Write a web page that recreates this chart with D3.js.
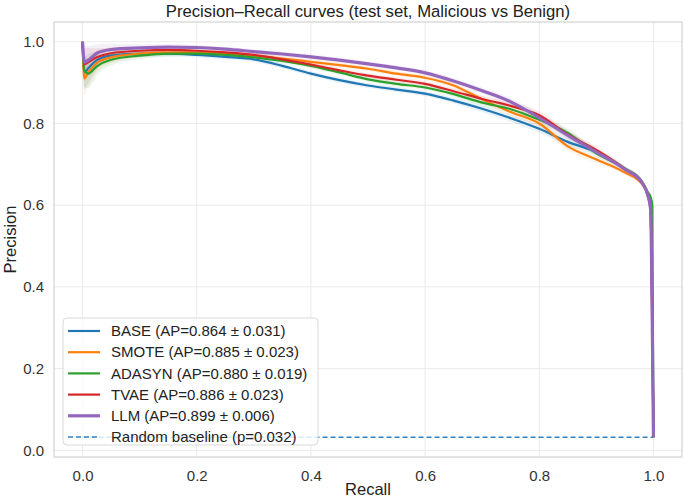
<!DOCTYPE html>
<html lang="en">
<head>
<meta charset="UTF-8">
<title>Precision-Recall curves</title>
<script src="https://d3js.org/d3.v7.min.js"></script>
<style>
  html, body { margin: 0; padding: 0; background: #fff; }
  svg { font-family: "Liberation Sans", Arial, sans-serif; }
</style>
</head>
<body>
<div id="chart"></div>
<script>
// recall grid shared by all curves
const recall = [0, 0.003, 0.01, 0.025, 0.05, 0.1, 0.15, 0.2, 0.25, 0.3, 0.35, 0.4, 0.45, 0.5,
  0.55, 0.6, 0.65, 0.7, 0.75, 0.8, 0.85, 0.9, 0.95, 0.98, 0.99, 0.995, 0.998, 1.0];

const precBase   = [1.0, 0.925, 0.935, 0.955, 0.966, 0.971, 0.971, 0.968, 0.963, 0.957, 0.941, 0.922, 0.906, 0.893,
  0.883, 0.873, 0.856, 0.836, 0.813, 0.787, 0.755, 0.73, 0.688, 0.655, 0.625, 0.59, 0.3, 0.032];
const precSmote  = [1.0, 0.91, 0.925, 0.948, 0.962, 0.971, 0.974, 0.974, 0.972, 0.966, 0.959, 0.951, 0.943, 0.934,
  0.922, 0.912, 0.893, 0.859, 0.828, 0.8, 0.744, 0.712, 0.68, 0.652, 0.622, 0.59, 0.3, 0.032];
const precAdasyn = [1.0, 0.93, 0.922, 0.94, 0.956, 0.966, 0.971, 0.971, 0.968, 0.962, 0.953, 0.941, 0.925, 0.908,
  0.897, 0.888, 0.872, 0.851, 0.835, 0.809, 0.777, 0.727, 0.69, 0.658, 0.632, 0.62, 0.6, 0.032];
const precTvae   = [1.0, 0.945, 0.95, 0.962, 0.972, 0.978, 0.98, 0.978, 0.974, 0.968, 0.957, 0.944, 0.93, 0.917,
  0.907, 0.897, 0.879, 0.86, 0.843, 0.82, 0.773, 0.735, 0.689, 0.656, 0.625, 0.59, 0.3, 0.032];
const precLlm    = [1.0, 0.95, 0.955, 0.972, 0.981, 0.985, 0.987, 0.986, 0.982, 0.976, 0.97, 0.963, 0.955, 0.946,
  0.936, 0.924, 0.904, 0.88, 0.853, 0.814, 0.771, 0.73, 0.688, 0.655, 0.625, 0.59, 0.3, 0.032];

// half width of the shaded +/- std band
const bandHalf = [0, 0.04, 0.035, 0.022, 0.014, 0.009, 0.007, 0.006, 0.006, 0.006, 0.006, 0.006, 0.006, 0.006,
  0.006, 0.006, 0.007, 0.008, 0.009, 0.01, 0.01, 0.008, 0.006, 0.006, 0.006, 0.006, 0, 0];

const seriesNames = ['BASE (AP=0.864 ± 0.031)', 'SMOTE (AP=0.885 ± 0.023)', 'ADASYN (AP=0.880 ± 0.019)',
  'TVAE (AP=0.886 ± 0.023)', 'LLM (AP=0.899 ± 0.006)'];
const seriesColors = ['#1f77b4', '#ff7f0e', '#2ca02c', '#d62728', '#9467bd'];
const seriesWidths = [2.2, 2.2, 2.2, 2.2, 3.2];
const seriesPrec = [precBase, precSmote, precAdasyn, precTvae, precLlm];

const baselineP = 0.032;
const baselineLabel = 'Random baseline (p=0.032)';
const xTicks = [0, 0.2, 0.4, 0.6, 0.8, 1.0];
const yTicks = [0, 0.2, 0.4, 0.6, 0.8, 1.0];

const width = 685, height = 500;
const margin = {top: 22, right: 3, bottom: 43, left: 54};
const pw = width - margin.left - margin.right;
const ph = height - margin.top - margin.bottom;

const svg = d3.select('#chart').append('svg')
  .attr('width', width)
  .attr('height', height);

const x = d3.scaleLinear().domain([-0.05, 1.05]).range([0, pw]);
const y = d3.scaleLinear().domain([-0.0164, 1.0484]).range([ph, 0]);

const g = svg.append('g').attr('transform', `translate(${margin.left},${margin.top})`);

// grid
g.append('g').selectAll('line').data(xTicks).join('line')
  .attr('x1', d => x(d)).attr('x2', d => x(d))
  .attr('y1', 0).attr('y2', ph)
  .attr('stroke', '#ebebeb').attr('stroke-width', 1);
g.append('g').selectAll('line').data(yTicks).join('line')
  .attr('y1', d => y(d)).attr('y2', d => y(d))
  .attr('x1', 0).attr('x2', pw)
  .attr('stroke', '#ebebeb').attr('stroke-width', 1);

// axes (tick labels only, seaborn whitegrid style)
const xAxis = g.append('g').attr('transform', `translate(0,${ph})`)
  .call(d3.axisBottom(x).tickValues(xTicks).tickFormat(d3.format('.1f')).tickSize(0).tickPadding(13));
const yAxis = g.append('g')
  .call(d3.axisLeft(y).tickValues(yTicks).tickFormat(d3.format('.1f')).tickSize(0).tickPadding(10));
[xAxis, yAxis].forEach(a => {
  a.select('.domain').remove();
  a.selectAll('text').attr('font-size', 15).attr('fill', '#333')
    .attr('font-family', '"Liberation Sans", Arial, sans-serif');
});

// bands + curves
const area = d3.area()
  .curve(d3.curveMonotoneX)
  .x((d, i) => x(recall[i]))
  .y0((d, i) => y(d - bandHalf[i]))
  .y1((d, i) => y(Math.min(1.0, d + bandHalf[i])));
const line = d3.line()
  .curve(d3.curveMonotoneX)
  .x((d, i) => x(recall[i]))
  .y(d => y(d));

seriesPrec.forEach((p, k) => {
  g.append('path').datum(p)
    .attr('d', area)
    .attr('fill', seriesColors[k])
    .attr('fill-opacity', 0.1);
});

// random baseline
g.append('line')
  .attr('x1', x(0)).attr('x2', x(1))
  .attr('y1', y(baselineP)).attr('y2', y(baselineP))
  .attr('stroke', '#2b85c8').attr('stroke-width', 1.5)
  .attr('stroke-dasharray', '5,3');

seriesPrec.forEach((p, k) => {
  g.append('path').datum(p)
    .attr('d', line)
    .attr('fill', 'none')
    .attr('stroke', seriesColors[k])
    .attr('stroke-width', seriesWidths[k])
    .attr('stroke-linejoin', 'round');
});

// frame
g.append('rect')
  .attr('width', pw).attr('height', ph)
  .attr('fill', 'none').attr('stroke', '#d4d4d4').attr('stroke-width', 1.25);

// title and axis labels
svg.append('text')
  .attr('x', margin.left + pw / 2).attr('y', 17)
  .attr('text-anchor', 'middle').attr('font-size', 16.7).attr('fill', '#222')
  .text('Precision–Recall curves (test set, Malicious vs Benign)');
svg.append('text')
  .attr('x', margin.left + pw / 2).attr('y', 495)
  .attr('text-anchor', 'middle').attr('font-size', 16.5).attr('fill', '#222')
  .text('Recall');
svg.append('text')
  .attr('transform', `translate(16,${margin.top + ph / 2}) rotate(-90)`)
  .attr('text-anchor', 'middle').attr('font-size', 16.5).attr('fill', '#222')
  .text('Precision');

// legend
const lg = g.append('g').attr('transform', 'translate(9,296)');
const rowH = 21.2;
lg.append('rect')
  .attr('width', 255).attr('height', 127).attr('rx', 4)
  .attr('fill', '#fff').attr('fill-opacity', 0.8)
  .attr('stroke', '#d9d9d9').attr('stroke-width', 1);
seriesNames.forEach((name, k) => {
  const yy = 13 + k * rowH;
  lg.append('line')
    .attr('x1', 5).attr('x2', 37).attr('y1', yy).attr('y2', yy)
    .attr('stroke', seriesColors[k]).attr('stroke-width', seriesWidths[k]);
  lg.append('text')
    .attr('x', 48).attr('y', yy).attr('dy', '0.35em')
    .attr('font-size', 15).attr('fill', '#222')
    .text(name);
});
const by = 13 + 5 * rowH;
lg.append('line')
  .attr('x1', 5).attr('x2', 37).attr('y1', by).attr('y2', by)
  .attr('stroke', '#2b85c8').attr('stroke-width', 1.5).attr('stroke-dasharray', '5,3');
lg.append('text')
  .attr('x', 48).attr('y', by).attr('dy', '0.35em')
  .attr('font-size', 15).attr('fill', '#222')
  .text(baselineLabel);
</script>
</body>
</html>
